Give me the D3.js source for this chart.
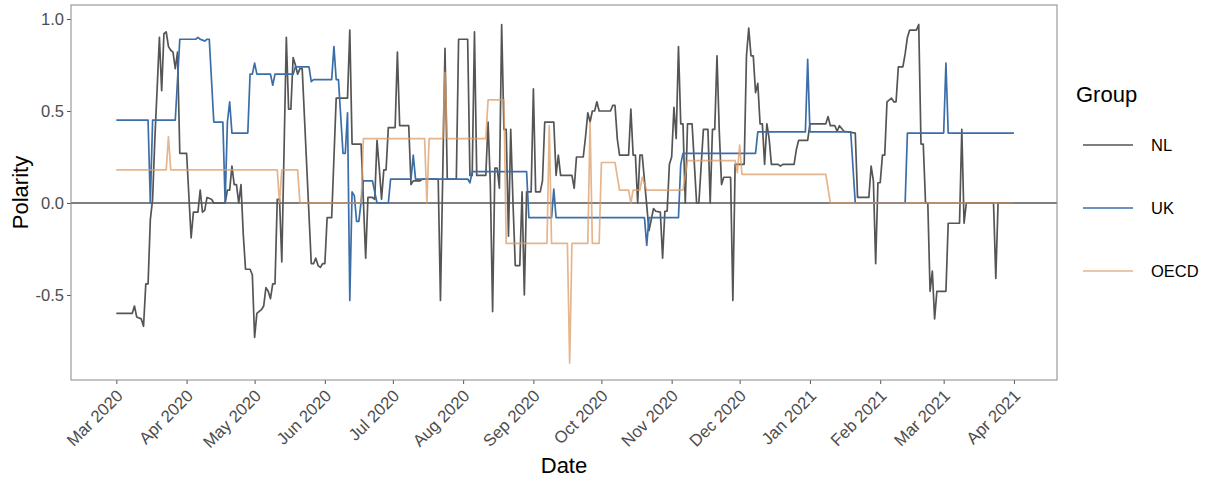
<!DOCTYPE html>
<html>
<head>
<meta charset="utf-8">
<script src="https://cdn.jsdelivr.net/npm/d3@7"></script>
<style>
  body { margin: 0; background: #fff; }
  text { font-family: "Liberation Sans", Arial, sans-serif; }
</style>
</head>
<body>
<div id="chart"></div>
<script>
// day offsets from 2020-03-01, polarity value
const startDate = new Date(2020, 2, 1);

const nlPoints = [[0,-0.60],[7,-0.60],[8,-0.56],[9,-0.62],[11,-0.63],[12,-0.67],[13,-0.44],[14,-0.44],[15,-0.09],[16,0.02],[17,0.35],[18,0.62],[19,0.90],[20,0.61],[21,0.92],[22,0.93],[23,0.85],[24,0.83],[25,0.82],[26,0.73],[27,0.82],[28,0.27],[31,0.27],[33,-0.19],[34,-0.05],[36,-0.05],[37,0.07],[38,-0.05],[39,-0.04],[40,0.03],[42,0.02],[43,0],[48,0],[49,0.07],[50,0.07],[51,0.20],[52,0.10],[53,0.10],[54,0],[55,0.10],[56,-0.17],[57,-0.36],[59,-0.36],[60,-0.39],[61,-0.73],[62,-0.60],[64,-0.58],[65,-0.56],[66,-0.46],[67,-0.48],[68,-0.52],[69,-0.44],[70,-0.44],[71,0.02],[72,0.02],[73,-0.32],[75,0.90],[76,0.51],[77,0.51],[78,0.79],[79,0.75],[80,0.70],[81,0.73],[82,0.73],[86,-0.33],[87,-0.33],[88,-0.30],[89,-0.34],[90,-0.35],[91,-0.33],[92,-0.33],[93,-0.08],[95,-0.08],[97,0.57],[102,0.57],[103,0.94],[104,0.32],[108,0.32],[110,-0.30],[111,0.03],[113,0.03],[114,0.02],[115,0.34],[116,0.19],[117,0.02],[118,0.18],[119,0.18],[120,0.41],[123,0.41],[124,0.82],[125,0.42],[129,0.42],[130,0.10],[131,0.12],[134,0.12],[135,0.13],[142,0.13],[143,-0.53],[145,0.84],[146,0.13],[150,0.13],[151,0.89],[155,0.89],[156,0.15],[157,0.15],[158,0.93],[159,0.15],[163,0.15],[164,0.44],[165,0.10],[166,-0.59],[167,0.19],[168,0.19],[169,0.08],[170,0.97],[171,0.40],[172,0.40],[173,-0.18],[174,0.40],[175,0],[176,-0.34],[178,-0.34],[179,0.06],[180,-0.50],[181,0.06],[183,0.06],[184,0.62],[185,0.06],[187,0.06],[188,0.12],[189,0.44],[193,0.44],[194,0.15],[195,0.26],[196,0.15],[201,0.15],[202,0.08],[203,0.25],[206,0.25],[207,0.36],[208,0.49],[209,0.44],[210,0.50],[211,0.50],[212,0.55],[213,0.50],[218,0.50],[219,0.53],[220,0.53],[221,0.35],[222,0.26],[226,0.26],[227,0.51],[228,0.26],[229,0.26],[230,0],[231,0.26],[232,0.26],[235,-0.15],[237,-0.03],[238,-0.045],[240,-0.05],[241,-0.30],[242,-0.045],[243,-0.045],[244,0.21],[245,0.25],[246,0.52],[247,0.35],[248,0.85],[249,0.43],[250,0.43],[251,0],[252,0.43],[254,0.43],[256,0],[257,0],[259,0.40],[261,0.40],[262,0],[263,0.40],[264,0.40],[265,0.80],[266,0.39],[267,0.10],[268,0.14],[271,0.14],[272,-0.53],[273,0.21],[277,0.21],[278,0.80],[279,0.95],[280,0.80],[281,0.80],[282,0.60],[283,0.65],[284,0.43],[285,0.43],[286,0.21],[287,0.43],[288,0.35],[289,0.21],[292,0.21],[293,0.20],[294,0.21],[299,0.21],[300,0.29],[301,0.34],[305,0.34],[306,0.43],[313,0.43],[314,0.47],[315,0.42],[317,0.42],[318,0.39],[319,0.42],[321,0.39],[326,0.38],[327,0.03],[332,0.03],[333,0.20],[334,0.12],[335,-0.33],[336,0.11],[337,0.11],[338,0.26],[339,0.26],[340,0.55],[342,0.57],[343,0.55],[344,0.55],[345,0.74],[347,0.74],[348,0.81],[349,0.90],[350,0.94],[353,0.94],[354,0.97],[355,0.32],[356,0.32],[357,0],[358,0],[359,-0.48],[360,-0.37],[361,-0.63],[362,-0.48],[366,-0.48],[367,-0.11],[372,-0.11],[373,0.40],[374,-0.11],[375,0],[387,0],[388,-0.41],[389,0],[396,0]];

const ukPoints = [[0,0.45],[14,0.45],[15,0],[16,0.45],[26,0.45],[28,0.89],[35,0.89],[36,0.90],[37,0.89],[38,0.885],[39,0.88],[40,0.89],[41,0.89],[43,0.44],[47,0.44],[48,0],[49,0.44],[50,0.55],[51,0.38],[58,0.38],[59,0.70],[60,0.70],[61,0.76],[62,0.70],[68,0.70],[69,0.64],[70,0.70],[78,0.70],[79,0.74],[85,0.74],[86,0.66],[87,0.67],[95,0.67],[96,0.85],[97,0.67],[98,0.67],[100,0.27],[101,0.27],[102,0.49],[103,-0.53],[104,0.06],[105,0.04],[106,-0.10],[107,-0.10],[109,0.12],[113,0.12],[115,0],[120,0],[121,0.13],[130,0.13],[131,0.26],[132,0.13],[155,0.13],[156,0.11],[157,0.17],[181,0.17],[182,-0.08],[192,-0.08],[193,0.075],[194,-0.08],[233,-0.08],[234,-0.23],[235,-0.08],[248,-0.08],[249,0.21],[250,0.27],[282,0.27],[283,0.386],[304,0.386],[305,0.78],[306,0.386],[324,0.386],[326,0],[348,0],[349,0.38],[365,0.38],[366,0.76],[367,0.38],[396,0.38]];

const oecdPoints = [[0,0.18],[22,0.18],[23,0.36],[24,0.18],[71,0.18],[72,0],[73,0.18],[80,0.18],[81,0],[108,0],[109,0.35],[136,0.35],[137,0],[138,0.35],[144,0.35],[145,0.71],[146,0.35],[163,0.35],[164,0.56],[171,0.56],[172,-0.22],[190,-0.22],[191,0.42],[192,-0.22],[199,-0.22],[200,-0.87],[201,-0.22],[208,-0.22],[209,0.44],[210,-0.22],[213,-0.22],[214,0.22],[220,0.22],[222,0.07],[226,0.07],[227,0],[228,0.07],[231,0.07],[232,0.14],[234,0.07],[250,0.07],[252,0.23],[273,0.23],[274,0.165],[275,0.315],[276,0.156],[313,0.156],[315,0],[396,0]];

const groups = ["NL", "UK", "OECD"];
const groupColors = ["#555555", "#3b6ea8", "#dc9c68"];
const groupPoints = [nlPoints, ukPoints, oecdPoints];
const yTicks = [-0.5, 0, 0.5, 1.0];

const W = 1212, H = 481;
const margin = {top: 5, right: 155, bottom: 101, left: 71};

const svg = d3.select("#chart").append("svg")
  .attr("width", W).attr("height", H);

const pad = 19.8;
const x = d3.scaleTime()
  .domain([d3.timeDay.offset(startDate, -pad), d3.timeDay.offset(startDate, 396 + pad)])
  .range([margin.left, W - margin.right]);

const y = d3.scaleLinear()
  .domain([-0.962, 1.076])
  .range([H - margin.bottom, margin.top]);

// x axis
const xAxis = svg.append("g")
  .attr("transform", "translate(0," + (H - margin.bottom) + ")")
  .call(d3.axisBottom(x)
    .ticks(d3.timeMonth.every(1))
    .tickFormat(d3.timeFormat("%b %Y"))
    .tickSizeOuter(0)
    .tickSize(4));
xAxis.select(".domain").remove();
xAxis.selectAll("line").attr("stroke", "#555");
xAxis.selectAll("text")
  .attr("fill", "#4d4d4d")
  .style("font-size", "16.8px")
  .attr("text-anchor", "end")
  .attr("dy", null)
  .attr("y", 0)
  .attr("transform", "translate(7,17) rotate(-45)");

// y axis
const yAxis = svg.append("g")
  .attr("transform", "translate(" + margin.left + ",0)")
  .call(d3.axisLeft(y)
    .tickValues(yTicks)
    .tickFormat(d3.format(".1f"))
    .tickSize(4)
    .tickSizeOuter(0));
yAxis.select(".domain").remove();
yAxis.selectAll("line").attr("stroke", "#555");
yAxis.selectAll("text")
  .attr("fill", "#4d4d4d")
  .style("font-size", "16.5px")
  .text(d => d3.format(".1f")(d).replace("−", "-"));

// zero line
svg.append("line")
  .attr("x1", margin.left).attr("x2", W - margin.right)
  .attr("y1", y(0)).attr("y2", y(0))
  .attr("stroke", "#555").attr("stroke-width", 1.5);

const line = d3.line()
  .x(d => x(d3.timeDay.offset(startDate, d[0])))
  .y(d => y(d[1]));

groupPoints.forEach((pts, i) => {
  svg.append("path")
    .datum(pts)
    .attr("fill", "none")
    .attr("stroke", groupColors[i])
    .attr("stroke-opacity", i === 2 ? 0.75 : 1)
    .attr("stroke-width", 1.7)
    .attr("stroke-linejoin", "round")
    .attr("d", line);
});

// panel border
svg.append("rect")
  .attr("x", margin.left).attr("y", margin.top)
  .attr("width", W - margin.right - margin.left)
  .attr("height", H - margin.bottom - margin.top)
  .attr("fill", "none").attr("stroke", "#888").attr("stroke-width", 1);

// axis titles
svg.append("text")
  .attr("x", (margin.left + W - margin.right) / 2).attr("y", 473)
  .attr("text-anchor", "middle")
  .style("font-size", "22px")
  .text("Date");

svg.append("text")
  .attr("transform", "translate(28," + ((margin.top + H - margin.bottom) / 2) + ") rotate(-90)")
  .attr("text-anchor", "middle")
  .style("font-size", "22px")
  .text("Polarity");

// legend
const legend = svg.append("g");
legend.append("text")
  .attr("x", 1076).attr("y", 102)
  .style("font-size", "22px")
  .text("Group");

groups.forEach((g, i) => {
  const ly = 145 + i * 63;
  legend.append("line")
    .attr("x1", 1083).attr("x2", 1133)
    .attr("y1", ly).attr("y2", ly)
    .attr("stroke", groupColors[i])
    .attr("stroke-opacity", i === 2 ? 0.75 : 1)
    .attr("stroke-width", 1.7);
  legend.append("text")
    .attr("x", 1151).attr("y", ly + 6)
    .style("font-size", "16.5px")
    .text(g);
});
</script>
</body>
</html>
